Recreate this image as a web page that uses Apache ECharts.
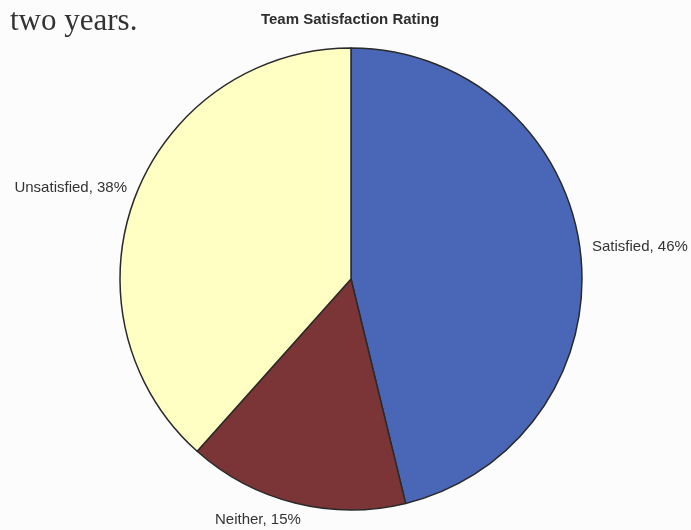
<!DOCTYPE html>
<html>
<head>
<meta charset="utf-8">
<script src="https://cdn.jsdelivr.net/npm/echarts@6/dist/echarts.min.js"></script>
<style>
  html, body { margin: 0; padding: 0; background: #fcfcfc; }
  #chart { width: 691px; height: 530px; }
</style>
</head>
<body>
<div id="chart"></div>
<script>
const categories = ['Satisfied', 'Neither', 'Unsatisfied'];
const values = [46.2, 15.4, 38.4];
const colors = ['#4a67b7', '#7b3536', '#ffffc4'];

const labelPos = {
  Satisfied:   { x: 592, y: 247, align: 'left' },
  Neither:     { x: 215, y: 520, align: 'left' },
  Unsatisfied: { x: 127, y: 188, align: 'right' }
};

const chart = echarts.init(document.getElementById('chart'), null, { renderer: 'canvas' });
chart.setOption({
  backgroundColor: '#fcfcfc',
  animation: false,
  title: {
    text: 'Team Satisfaction Rating',
    left: 345,
    top: 7,
    textAlign: 'center',
    textStyle: { fontFamily: 'Liberation Sans, Arial, sans-serif', fontSize: 15, fontWeight: 'bold', color: '#2e2e2e' }
  },
  graphic: [{
    type: 'text',
    left: 10,
    top: 6,
    style: {
      text: 'two years.',
      font: '31px "Liberation Serif", "Times New Roman", serif',
      fill: '#333333'
    }
  }],
  series: [{
    type: 'pie',
    center: [351, 279],
    radius: 231,
    startAngle: 90,
    clockwise: true,
    avoidLabelOverlap: false,
    itemStyle: { borderColor: '#2a2a2a', borderWidth: 1.5 },
    label: {
      show: true,
      position: 'outside',
      formatter: p => p.name + ', ' + Math.round(p.percent) + '%',
      fontFamily: 'Liberation Sans, Arial, sans-serif',
      fontSize: 15,
      color: '#333333'
    },
    labelLine: { show: false },
    labelLayout: function (params) {
      const name = categories[params.dataIndex];
      const p = labelPos[name];
      return { x: p.x, y: p.y, align: p.align, verticalAlign: 'middle' };
    },
    emphasis: { disabled: true },
    data: categories.map((c, i) => ({ name: c, value: values[i], itemStyle: { color: colors[i] } }))
  }]
});
</script>
</body>
</html>
